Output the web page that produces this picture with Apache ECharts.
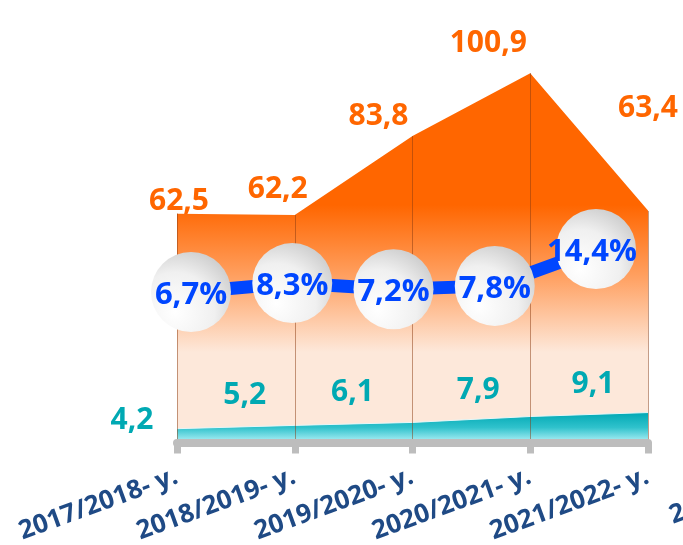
<!DOCTYPE html>
<html>
<head>
<meta charset="utf-8">
<script src="https://cdn.jsdelivr.net/npm/echarts@6/dist/echarts.min.js"></script>
<style>
  html, body { margin: 0; padding: 0; background: #fff; }
  #main { width: 683px; height: 545px; }
</style>
</head>
<body>
<div id="main"></div>
<script>
// data
var years = ['2017/2018- у.', '2018/2019- у.', '2019/2020- у.', '2020/2021- у.', '2021/2022- у.'];
var totalVals = [62.5, 62.2, 83.8, 100.9, 63.4];
var smallVals = [4.2, 5.2, 6.1, 7.9, 9.1];
var rateVals = [6.7, 8.3, 7.2, 7.8, 14.4];

// label nudges (layout only)
var totalOffsets = [[2, -12], [-17, -25], [-34, -19], [-42, -30], [0, -102]];
var smallOffsets = [[-45, -8], [-50, -30], [-60, -30], [-52, -26], [-55, -28]];
var rateOffsets = [[0, 3], [0, 3], [0, 3], [0, 3], [-4, 3]];

function fmt(v) { return String(v).replace('.', ','); }

var font = '"Open Sans", "Noto Sans", sans-serif';

var myChart = echarts.init(document.getElementById('main'));

var option = {
  animation: false,
  grid: [
    { left: 177, right: 35, top: 3.5, bottom: 102.5, outerBoundsMode: 'none' },
    { left: 191, right: 87, top: 217.8, bottom: 215.6, outerBoundsMode: 'none' }
  ],
  xAxis: [
    {
      gridIndex: 0,
      type: 'category',
      boundaryGap: false,
      data: years,
      z: 5,
      axisLine: { lineStyle: { color: '#bdbdbd', width: 8 } },
      axisTick: { show: true, length: 11, lineStyle: { color: '#bdbdbd', width: 7 } },
      axisLabel: {
        rotate: 20,
        margin: 33,
        interval: 0,
        color: '#1f4a85',
        fontSize: 26,
        fontWeight: 'bold',
        fontFamily: font
      },
      splitLine: { show: false }
    },
    {
      gridIndex: 1,
      type: 'category',
      boundaryGap: false,
      data: years,
      show: false
    }
  ],
  yAxis: [
    { gridIndex: 0, type: 'value', min: 0, max: 120, show: false },
    { gridIndex: 0, type: 'value', min: 0, max: 133.4, show: false },
    { gridIndex: 1, type: 'value', min: 0, max: 20, show: false }
  ],
  graphic: [
    {
      type: 'text',
      x: 675,
      y: 529,
      rotation: Math.PI / 9,
      silent: true,
      style: {
        text: '2022/2023- у.',
        fill: '#1f4a85',
        font: 'bold 26px ' + font,
        textAlign: 'left',
        textVerticalAlign: 'bottom'
      }
    }
  ],
  series: [
    {
      name: 'total',
      type: 'line',
      xAxisIndex: 0,
      yAxisIndex: 0,
      data: totalVals.map(function (v, i) {
        return { value: v, label: { offset: totalOffsets[i] } };
      }),
      symbol: 'circle',
      symbolSize: 0,
      lineStyle: { width: 0 },
      itemStyle: { color: '#ff6600' },
      areaStyle: {
        opacity: 1,
        color: {
          type: 'linear', x: 0, y: 205, x2: 0, y2: 352, global: true,
          colorStops: [
            { offset: 0, color: '#ff6600' },
            { offset: 0.5, color: '#ffa264' },
            { offset: 1, color: '#fde8da' }
          ]
        }
      },
      label: {
        show: true,
        position: 'inside',
        color: '#ff6600',
        fontSize: 30,
        fontWeight: 'bold',
        fontFamily: font,
        formatter: function (p) { return fmt(p.value); }
      },
      markLine: {
        silent: true,
        symbol: ['none', 'none'],
        label: { show: false },
        lineStyle: { type: 'dotted', color: '#8a3a10', width: 1 },
        data: totalVals.map(function (v, i) {
          return [{ coord: [years[i], 0] }, { coord: [years[i], v] }];
        })
      }
    },
    {
      name: 'small',
      type: 'line',
      xAxisIndex: 0,
      yAxisIndex: 1,
      data: smallVals.map(function (v, i) {
        return { value: v, label: { offset: smallOffsets[i] } };
      }),
      symbol: 'circle',
      symbolSize: 0,
      lineStyle: { width: 1, color: '#e6f7f8' },
      itemStyle: { color: '#00a9b3' },
      areaStyle: {
        opacity: 1,
        color: {
          type: 'linear', x: 0, y: 0, x2: 0, y2: 1,
          colorStops: [
            { offset: 0, color: '#00a8b4' },
            { offset: 0.5, color: '#30c2cc' },
            { offset: 1, color: '#b4f2f8' }
          ]
        }
      },
      label: {
        show: true,
        position: 'inside',
        color: '#00a9b3',
        fontSize: 30,
        fontWeight: 'bold',
        fontFamily: font,
        formatter: function (p) { return fmt(p.value); }
      }
    },
    {
      name: 'rate',
      type: 'line',
      xAxisIndex: 1,
      yAxisIndex: 2,
      z: 10,
      data: rateVals.map(function (v, i) {
        return { value: v, label: { offset: rateOffsets[i] } };
      }),
      symbol: 'circle',
      symbolSize: 80,
      lineStyle: { width: 13, color: '#0046ff' },
      itemStyle: {
        color: {
          type: 'radial', x: 0.3, y: 0.75, r: 0.9,
          colorStops: [
            { offset: 0, color: '#ffffff' },
            { offset: 0.55, color: '#f0f0f0' },
            { offset: 1, color: '#c6c6c6' }
          ]
        }
      },
      label: {
        show: true,
        position: 'inside',
        color: '#0046ff',
        fontSize: 31,
        fontWeight: 'bold',
        fontFamily: font,
        formatter: function (p) { return fmt(p.value) + '%'; }
      }
    }
  ]
};

myChart.setOption(option);
</script>
</body>
</html>
